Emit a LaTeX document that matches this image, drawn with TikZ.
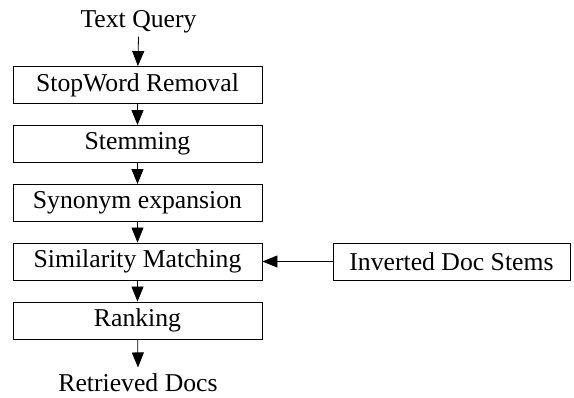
\documentclass[tikz,border=0pt]{standalone}
\usepackage{fontspec}
\setmainfont{Liberation Serif}
\usetikzlibrary{arrows.meta}
\begin{document}
\begin{tikzpicture}[x=1pt, y=-1pt,
  txt/.style={font=\fontsize{25.7}{29}\selectfont},
  stage/.style={txt, draw, line width=0.9pt, fill=white,
    minimum height=37pt, inner sep=0pt},
  pipe/.style={stage, minimum width=249pt},
  ends/.style={txt, inner sep=0pt, anchor=base},
  flow/.style={line width=0.8pt, -{Triangle[length=15pt, width=12pt]}}]
  \useasboundingbox (0,0) rectangle (574,398);

  % query input and output labels
  \node[ends] (query) at (138.5,28) {Text Query};
  \node[ends] (docs) at (138,391.5) {Retrieved Docs};

  % processing pipeline
  \node[pipe] (stop) at (137.5,85) {StopWord Removal};
  \node[pipe] (stem) at (137.5,144) {Stemming};
  \node[pipe] (syn)  at (137.5,203) {Synonym expansion};
  \node[pipe] (sim)  at (137.5,261.5) {Similarity Matching};
  \node[pipe] (rank) at (137.5,320.5) {Ranking};

  % index feeding the matcher
  \node[stage, minimum width=237pt] (inv) at (451.5,261.5) {Inverted Doc Stems};

  % connectors
  \draw[flow] ([yshift=-3pt]query.south) -- (stop);
  \draw[flow] (stop) -- (stem);
  \draw[flow] (stem) -- (syn);
  \draw[flow] (syn) -- (sim);
  \draw[flow] (sim) -- (rank);
  \draw[flow] (rank) -- ([yshift=6pt]docs.north);
  \draw[flow] (inv) -- (sim);
\end{tikzpicture}
\end{document}
